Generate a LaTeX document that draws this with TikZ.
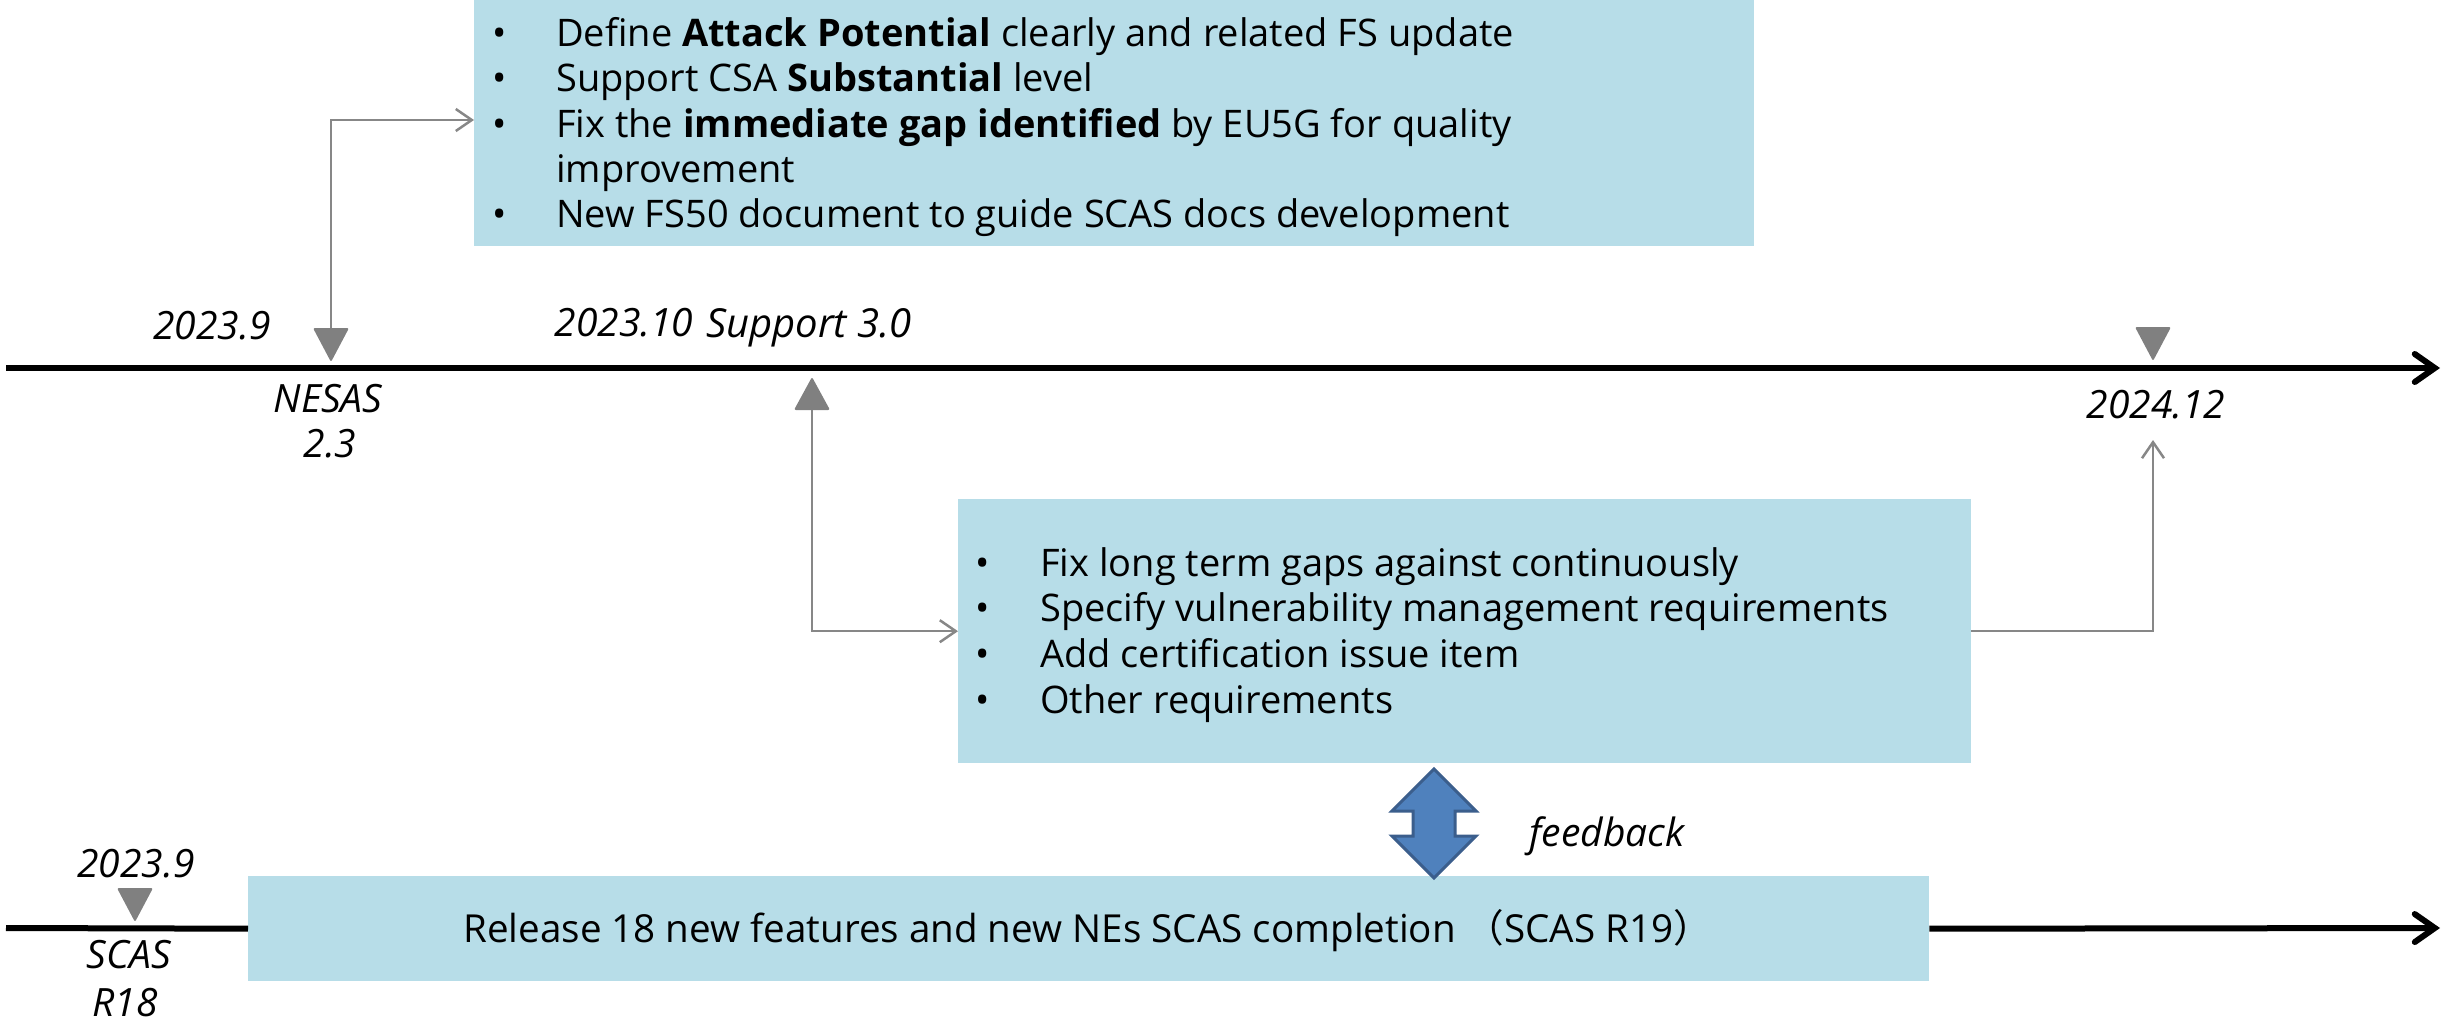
\documentclass[tikz,border=0pt]{standalone}
\usepackage{fontspec}
\setmainfont{Open Sans}
\newfontfamily\cjkfont{Noto Sans CJK SC}
\usetikzlibrary{arrows.meta}
\definecolor{boxblue}{HTML}{B7DDE8}
\definecolor{conngray}{HTML}{878787}
\definecolor{markgray}{HTML}{808080}
\definecolor{fbfill}{HTML}{4F81BD}
\definecolor{fbdraw}{HTML}{3B5E8C}
\begin{document}
\begin{tikzpicture}[x=1pt,y=-1pt,
  box/.style={fill=boxblue, draw=none, inner sep=0pt, anchor=north west},
  body/.style={font=\fontsize{38}{45}\selectfont, inner sep=0pt, anchor=base west},
  bul/.style={font=\fontsize{38}{45}\selectfont, inner sep=0pt, anchor=base},
  lbl/.style={font=\fontsize{39}{45}\selectfont\itshape, inner sep=0pt, anchor=base},
  conn/.style={draw=conngray, line width=2.5pt, -{Straight Barb[length=16pt,width=22pt]}},
  timeline/.style={line width=6pt, -{Straight Barb[length=20pt,width=28pt,line cap=round]}},
  marker/.style={fill=markgray, rounded corners=2pt},
]
\useasboundingbox (0,0) rectangle (2447,1023);

% boxes
\node[box, minimum width=1280pt, minimum height=246pt] (topbox) at (474,0) {};
\node[box, minimum width=1013pt, minimum height=264pt] (box2) at (958,499) {};
\node[box, minimum width=1681pt, minimum height=105pt] (box3) at (248,876) {};

% timelines
\coordinate (tlas) at (6,368);
\coordinate (tlae) at (2440,368);
\draw[timeline] (tlas) -- (tlae);
\coordinate (tlbs) at (6,928);
\coordinate (tlbe) at (2440,928);
\draw[line width=6pt] (tlbs) -- (box3.west);
\draw[timeline] (box3.east) -- (tlbe);

% markers (top-centre / base-centre of each triangle)
\coordinate (m1) at (331,328);
\fill[marker] (m1) -- ++(18,0) -- ++(-18,34) -- ++(-18,-34) -- cycle;
\coordinate (m2) at (812,410);
\fill[marker] (m2) -- ++(18,0) -- ++(-18,-33) -- ++(-18,33) -- cycle;
\coordinate (m3) at (2153,327);
\fill[marker] (m3) -- ++(18,0) -- ++(-18,34) -- ++(-18,-34) -- cycle;
\coordinate (m4) at (135,888);
\fill[marker] (m4) -- ++(18,0) -- ++(-18,34) -- ++(-18,-34) -- cycle;

% connectors
\coordinate (c1) at (331,120);
\draw[conn] (m1) |- (topbox.west |- c1);
\draw[conn] (m2) |- (box2.west);
\coordinate (c3) at (2153,440);
\draw[conn] (box2.east) -| (c3);

% feedback arrow
\coordinate (fb) at (1434,823);
\filldraw[fill=fbfill, draw=fbdraw, line width=3pt]
  (fb) ++(0,-54) -- ++(42,42) -- ++(-21,0) -- ++(0,25) -- ++(21,0)
  -- ++(-42,42) -- ++(-42,-42) -- ++(21,0) -- ++(0,-25) -- ++(-21,0) -- cycle;
\node[lbl] (fbl) at (1607,846) {feedback};

% labels
\node[lbl] (d1) at (212,339) {2023.9};
\node[lbl] (n1) at (328,412) {NESAS};
\node[lbl] (n1b) at (330,457) {2.3};
\node[lbl] (d2) at (624,336) {2023.10};
\node[lbl, anchor=base west, font=\fontsize{40}{45}\selectfont\itshape] (s3) at (706,337) {Support 3.0};
\node[lbl] (d3) at (2156,418) {2024.12};
\node[lbl] (d5) at (136,877) {2023.9};
\node[lbl] (n5) at (129,968) {SCAS};
\node[lbl] (n5b) at (125,1016) {R18};

% top box text
\node[bul] (tb1) at (500,46) {•};
\node[body] (tt1) at (556,46) {Define \textbf{Attack Potential} clearly and related FS update};
\node[bul] (tb2) at (500,91) {•};
\node[body] (tt2) at (556,91) {Support CSA \textbf{Substantial} level};
\node[bul] (tb3) at (500,137) {•};
\node[body] (tt3) at (556,137) {Fix the \textbf{immediate gap identified} by EU5G for quality};
\node[body] (tt4) at (556,182) {improvement};
\node[bul] (tb5) at (500,227) {•};
\node[body] (tt5) at (556,227) {New FS50 document to guide SCAS docs development};

% box 2 text
\node[bul] (bb1) at (983,576) {•};
\node[body] (bt1) at (1040,576) {Fix long term gaps against continuously};
\node[bul] (bb2) at (983,621) {•};
\node[body] (bt2) at (1040,621) {Specify vulnerability management requirements};
\node[bul] (bb3) at (983,667) {•};
\node[body] (bt3) at (1040,667) {Add certification issue item};
\node[bul] (bb4) at (983,713) {•};
\node[body] (bt4) at (1040,713) {Other requirements};

% box 3 text
\node[body, font=\fontsize{38.6}{45}\selectfont] (rt) at (463,942) {Release 18 new features and new NEs SCAS completion {\cjkfont （}SCAS R19{\cjkfont ）}};
\end{tikzpicture}
\end{document}
